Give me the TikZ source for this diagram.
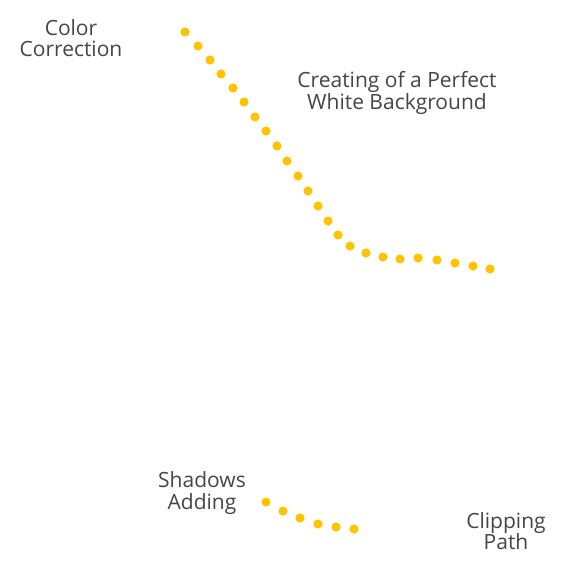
\documentclass[tikz,border=0pt]{standalone}
\usepackage{fontspec}
\setmainfont{Open Sans}
\usepackage{xcolor}
\usetikzlibrary{positioning}
\definecolor{dotgold}{HTML}{FFC300}
\definecolor{labelgray}{HTML}{454545}
\tikzset{
  lbl/.style = {align=center, text=labelgray, inner sep=0pt,
                font=\fontsize{21}{21.5}\selectfont},
  dot/.style = {fill=dotgold},
}

\begin{document}
\begin{tikzpicture}[x=1pt, y=-1pt]
  \useasboundingbox (0,0) rectangle (575,575);

  % Labels
  \node[lbl] (color)   at (71,38)  {Color\\Correction};
  \node[lbl] (white)   at (397,93) {Creating of a Perfect\\White Background};
  \node[lbl] (shadows) at (202,493) {Shadows\\Adding};
  \node[lbl] (clip)    at (506,531) {Clipping\\Path};

  % Dotted curves
  \foreach \x/\y in {185/32, 198/46, 210/60, 221/74, 233/88, 244/102,
                     255/117, 266/131, 277/146, 287/161, 298/176, 308/191,
                     318/206, 328/221, 338/235, 350/246, 366/253, 383/257,
                     400/259, 418/258, 437/260, 455/263, 473/266, 490/269}
    \fill[dot] (\x,\y) circle (4.6);
  \foreach \x/\y in {266/502, 283/511, 300/518, 318/524, 336/527, 354/529}
    \fill[dot] (\x,\y) circle (4.6);

\end{tikzpicture}
\end{document}
